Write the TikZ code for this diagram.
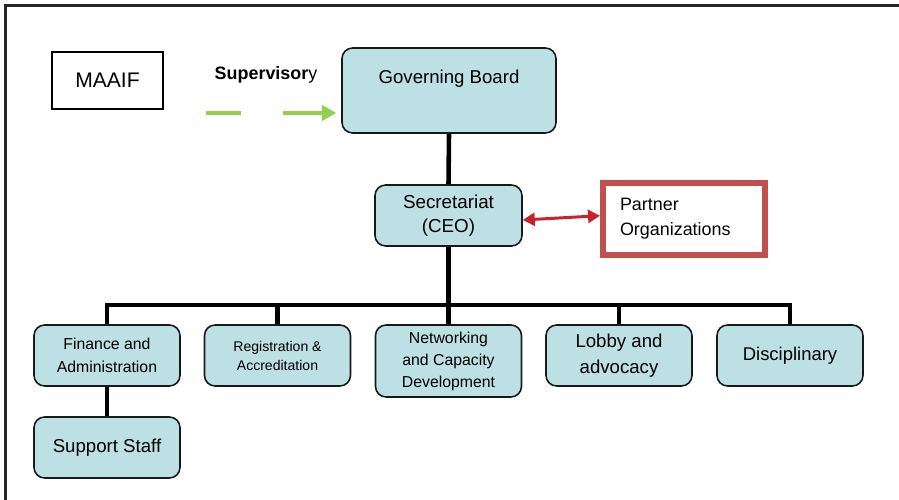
\documentclass[tikz,border=0pt]{standalone}
\usepackage{fontspec}
\setmainfont{Liberation Sans}
\usetikzlibrary{arrows.meta, positioning}
\definecolor{boxfill}{RGB}{189,224,228}
\definecolor{supgreen}{RGB}{146,208,80}
\definecolor{partred}{RGB}{192,80,77}
\definecolor{arrred}{RGB}{200,35,45}
\tikzset{
    unit/.style={draw=black!90, line width=0.9pt, fill=boxfill, rounded corners=6pt,
        align=center, minimum width=2.92cm, minimum height=1.22cm, inner sep=1pt},
    link/.style={line width=2.6pt},
}

\begin{document}
\begin{tikzpicture}[x=0.02cm, y=-0.02cm]
        \useasboundingbox (0,0) rectangle (899,500);
        % Frame
        \draw [line width=1.2pt, black!85] (5.5,500) -- (5.5,5.5) -- (899,5.5);
        % Top
        \node [draw, line width=1.3pt, minimum width=2.22cm, minimum height=1.14cm,
            font=\fontsize{12}{14}\selectfont] (maaif) at (107.5,80.5) {MAAIF};
        \node [font=\fontsize{10.2}{12}\selectfont] (sup) at (266,75) {\textbf{Supervisor}y};
        \node [unit, minimum width=4.28cm, minimum height=1.7cm,
            label={[yshift=0.23cm, font=\fontsize{10.6}{12}\selectfont]center:Governing Board}] (gb) at (449,90.5) {};
        \node [unit, font=\fontsize{10.7}{13.6}\selectfont, minimum width=2.94cm] (sec) at (448.5,215.5) {Secretariat\\(CEO)};
        \node [draw=partred, line width=3.4pt, text width=2.56cm, inner xsep=0.34cm, minimum height=1.44cm,
            align=left, font=\fontsize{10.2}{14.2}\selectfont] (partner) at (684,219) {Partner\\Organizations};
        % Units
        \node [unit, font=\fontsize{9}{13}\selectfont] (fin) at (107,355.5) {Finance and\\Administration};
        \node [unit, font=\fontsize{8}{10.8}\selectfont] (reg) at (277.5,355.5) {Registration \&\\Accreditation};
        \node [unit, minimum height=1.44cm, font=\fontsize{9}{12.5}\selectfont] (net) at (448.5,361) {Networking\\and Capacity\\Development};
        \node [unit, font=\fontsize{10.6}{14.7}\selectfont] (lob) at (619,355.5) {Lobby and\\advocacy};
        \node [unit, font=\fontsize{10.5}{12}\selectfont] (disc) at (790,355.5) {Disciplinary};
        \node [unit, font=\fontsize{10.6}{12}\selectfont] (staff) at (107,447.5) {Support Staff};
        % Lines
        \coordinate (bus) at (449,305);
        \draw [link] (gb.south) -- (sec.north);
        \draw [link] (sec.south) -- (sec.south |- bus);
        \draw [link] (fin.north) -- (fin.north |- bus) -| (disc.north);
        \foreach \b in {reg, net, lob}
            \draw [link] (\b.north) -- (\b.north |- bus);
        \draw [link] (fin.south) -- (staff.north);
        % Arrows
        \coordinate (supstart) at (206,113);
        \draw [supgreen, line width=2.8pt, dash pattern=on 0.7cm off 0.84cm on 2cm off 1cm,
            -{Triangle[length=0.28cm, width=0.3cm]}, shorten >=0.1cm] (supstart) -- (gb.west |- supstart);
        \draw [arrred, line width=1.7pt, {Triangle[length=0.24cm, width=0.26cm]}-{Triangle[length=0.24cm, width=0.26cm]}]
            ([yshift=-0.09cm]sec.east) -- ([yshift=0.066cm]partner.west);
    \end{tikzpicture}
\end{document}
